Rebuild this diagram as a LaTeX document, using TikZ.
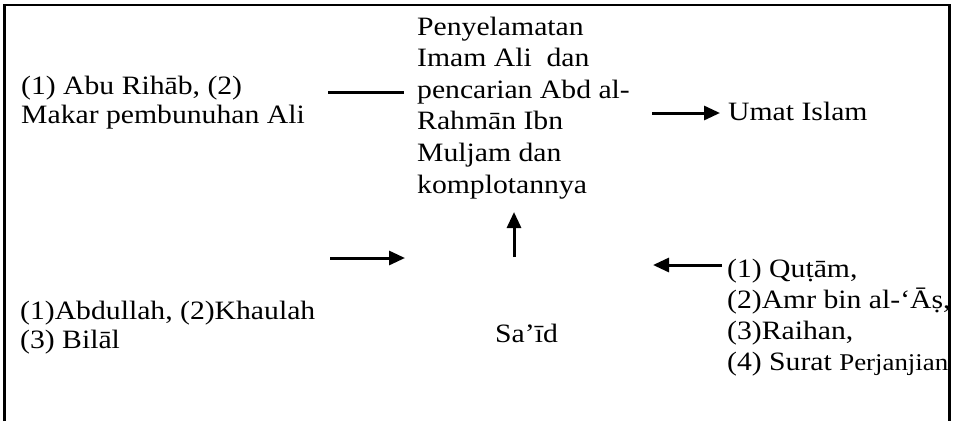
\documentclass[tikz,border=0pt]{standalone}
\usepackage{fontspec}
\setmainfont[FakeStretch=1.12]{Liberation Serif}
\usetikzlibrary{arrows.meta}

\begin{document}
\begin{tikzpicture}[x=1pt, y=-1pt,
    txt/.style={anchor=base west, inner sep=0pt, align=left, font=\fontsize{26.5}{28.5}\selectfont},
    arr/.style={-{Triangle[length=16pt,width=14pt]}, line width=3pt},
    lin/.style={line width=3pt},
    frame/.style={line width=2.6pt}
]
    \useasboundingbox (0,0) rectangle (955,421);
    \draw[frame] (4.5,421) -- (4.5,5) -- (949.5,5) -- (949.5,421);

    \node[txt] (pelaku) at (21,123) {(1) Abu Rihāb, (2)\\Makar pembunuhan Ali};
    \node[txt, font=\fontsize{26.5}{31.6}\selectfont] (pusat) at (417,193) {Penyelamatan\\Imam Ali\ \ dan\\pencarian Abd al-\\Rahmān Ibn\\Muljam dan\\komplotannya};
    \node[txt] (umat) at (728,120) {Umat Islam};
    \node[txt] (anak) at (20,348) {(1)Abdullah, (2)Khaulah\\(3) Bilāl};
    \node[txt] (said) at (495,342) {Sa’īd};
    \node[txt, font=\fontsize{26.5}{30.8}\selectfont] (bukti) at (727,370) {(1) Quṭām,\\(2)Amr bin al-‘Āṣ,\\(3)Raihan,\\(4) Surat {\fontsize{24}{30.8}\selectfont Perjanjian}};

    \coordinate (garisA) at (328,92);
    \coordinate (garisB) at (404,92);
    \coordinate (umatA) at (652,113);
    \coordinate (umatB) at (720,113);
    \coordinate (anakA) at (330,258);
    \coordinate (anakB) at (405,258);
    \coordinate (saidA) at (514,257);
    \coordinate (saidB) at (514,212);
    \coordinate (buktiA) at (722,265);
    \coordinate (buktiB) at (653,265);

    \draw[lin] (garisA) -- (garisB);
    \draw[arr] (umatA) -- (umatB);
    \draw[arr] (anakA) -- (anakB);
    \draw[arr] (saidA) -- (saidB);
    \draw[arr] (buktiA) -- (buktiB);
\end{tikzpicture}
\end{document}
